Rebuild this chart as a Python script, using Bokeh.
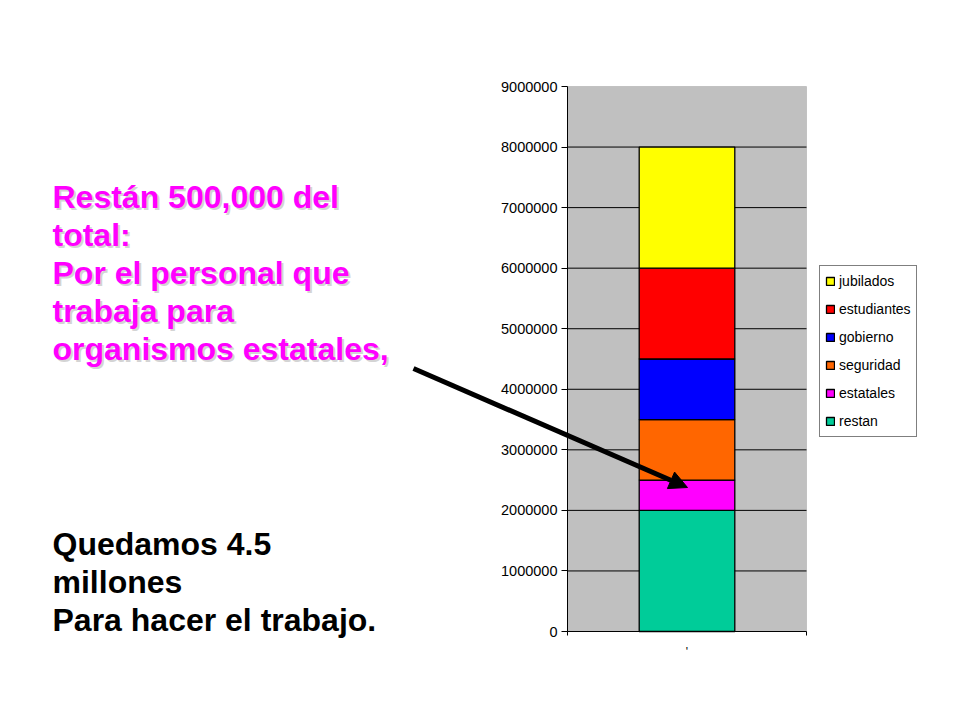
from bokeh.plotting import figure
from bokeh.models import (Range1d, FixedTicker, NumeralTickFormatter, Legend, LegendItem,
                          Label, Arrow, NormalHead, ColumnDataSource, LinearAxis, BoxAnnotation)
from bokeh.embed import file_html
from bokeh.resources import INLINE

# ---- data ----
categories = ["total"]
series = ["restan", "estatales", "seguridad", "gobierno", "estudiantes", "jubilados"]
restan = [2000000]
estatales = [500000]
seguridad = [1000000]
gobierno = [1000000]
estudiantes = [1500000]
jubilados = [2000000]
colors = ["#00CC99", "#FF00FF", "#FF6600", "#0000FF", "#FF0000", "#FFFF00"]
y_ticks = [0, 1000000, 2000000, 3000000, 4000000, 5000000, 6000000, 7000000, 8000000, 9000000]

magenta_lines = ["Restán  500,000 del", "total:", "Por el personal que",
                 "trabaja para", "organismos estatales,"]
black_lines = ["Quedamos 4.5", "millones", "Para hacer el trabajo."]

# ---- layout constants (canvas pixels) ----
W, H = 944, 704
CL, CR, CT, CB = 567, 806, 86, 631      # chart (gray) area in pixels
VMIN, VMAX = 0.0, 9000000.0

def dx(px):
    return (px - CL) / (CR - CL)

def dy(py):
    return (CB - py) / (CB - CT) * (VMAX - VMIN) + VMIN

p = figure(width=W, height=H, output_backend="svg", toolbar_location=None,
           x_range=Range1d(dx(0), dx(W)), y_range=Range1d(dy(H), dy(0)),
           x_axis_location=None, y_axis_location=None,
           min_border=0)
p.min_border_left = 0
p.min_border_right = 0
p.min_border_top = 0
p.min_border_bottom = 0
p.background_fill_color = "white"
p.border_fill_color = "white"
p.outline_line_color = None
p.xgrid.visible = False
p.ygrid.visible = False

# gray plot area
p.add_layout(BoxAnnotation(left=0, right=1, bottom=VMIN, top=VMAX,
                           fill_color="#C0C0C0", fill_alpha=1,
                           line_color="#808080", line_width=1, level="underlay"))

# gridlines
grid_vals = y_ticks[1:-1]
p.segment(x0=[0] * len(grid_vals), x1=[1] * len(grid_vals), y0=grid_vals, y1=grid_vals,
          line_color="black", line_width=1)

data = dict(x=[0.5], restan=restan, estatales=estatales, seguridad=seguridad,
            gobierno=gobierno, estudiantes=estudiantes, jubilados=jubilados)
src = ColumnDataSource(data)
rends = p.vbar_stack(series, x="x", width=0.4, color=colors, source=src,
                     line_color="black", line_width=1.3)

# axes
yax = LinearAxis(fixed_location=0, bounds=(VMIN, VMAX),
                 ticker=FixedTicker(ticks=y_ticks),
                 formatter=NumeralTickFormatter(format="0"),
                 major_label_text_font="Liberation Sans",
                 major_label_text_font_size="14.5px",
                 major_label_text_color="black",
                 major_tick_out=6, major_tick_in=0,
                 minor_tick_out=0, minor_tick_in=0,
                 major_label_standoff=4,
                 axis_line_color="black", major_tick_line_color="black")
p.add_layout(yax, "left")

xax = LinearAxis(fixed_location=VMIN, bounds=(0, 1),
                 ticker=FixedTicker(ticks=[0, 1]),
                 major_label_overrides={0: "", 1: ""},
                 major_tick_out=4, major_tick_in=0,
                 minor_tick_out=0, minor_tick_in=0,
                 axis_line_color="black", major_tick_line_color="black")
p.add_layout(xax, "below")

# small category mark under the axis
p.add_layout(Label(x=0.5, y=dy(651), text="'", text_font="Liberation Sans",
                   text_font_size="12px", text_color="black", text_align="center",
                   text_baseline="alphabetic"))

# legend
items = [LegendItem(label=s, renderers=[r]) for s, r in zip(series, rends)][::-1]
legend = Legend(items=items, location=(819, H - 437), margin=0,
                padding=5, spacing=8, glyph_width=10, glyph_height=10,
                label_height=20, label_standoff=4,
                label_text_font="Liberation Sans", label_text_font_size="14px",
                label_text_color="black",
                border_line_color="black", border_line_width=1,
                background_fill_color="white", background_fill_alpha=1)
p.add_layout(legend, "center")

# left texts
mag_base = [196, 234, 272, 310, 348]
for t, b in zip(magenta_lines, mag_base):
    p.add_layout(Label(x=dx(52), y=dy(b), text=t, x_offset=2, y_offset=-2,
                       text_font="Liberation Sans", text_font_style="bold",
                       text_font_size="32px", text_color="#D4D4D4",
                       text_baseline="alphabetic"))
    p.add_layout(Label(x=dx(52), y=dy(b), text=t,
                       text_font="Liberation Sans", text_font_style="bold",
                       text_font_size="32px", text_color="#FF00FF",
                       text_baseline="alphabetic"))

blk_base = [543, 581, 619]
for t, b in zip(black_lines, blk_base):
    p.add_layout(Label(x=dx(52), y=dy(b), text=t,
                       text_font="Liberation Sans", text_font_style="bold",
                       text_font_size="32px", text_color="black",
                       text_baseline="alphabetic"))

# arrow
p.add_layout(Arrow(end=NormalHead(size=18, fill_color="black", line_color="black"),
                   x_start=dx(413), y_start=dy(368), x_end=dx(687), y_end=dy(487),
                   line_width=5, line_color="black"))

open("out.html", "w").write(file_html(p, INLINE))
